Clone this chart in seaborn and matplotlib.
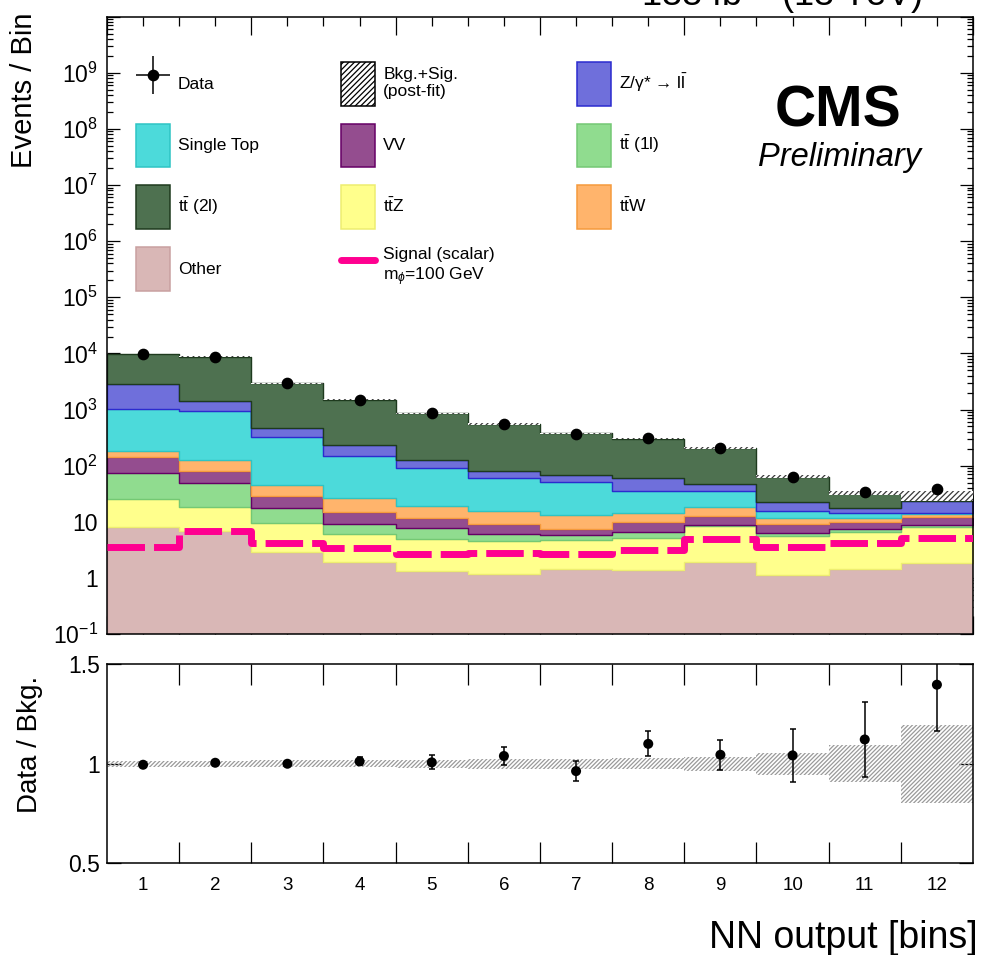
import numpy as np
import pandas as pd
import matplotlib
matplotlib.use("Agg")
import matplotlib.pyplot as plt
import seaborn as sns
from matplotlib.patches import Patch
from matplotlib.lines import Line2D
from matplotlib.collections import LineCollection
from matplotlib.container import ErrorbarContainer
from matplotlib.legend_handler import HandlerErrorbar
from matplotlib.ticker import (FixedLocator, LogLocator, NullFormatter,
                               FuncFormatter, MultipleLocator, NullLocator)
from matplotlib.colors import to_hex

# ---------------------------------------------------------------------------
# NN output bins
bin_labels = ["1", "2", "3", "4", "5", "6", "7", "8", "9", "10", "11", "12"]

# post-fit yields per process (events / bin)
yield_tt2l = [6940, 7364, 2470, 1249, 734, 473, 309, 242, 161, 41.4, 15.6, 5.2]
yield_dy = [1840, 462, 154, 85, 36, 20.4, 17, 24.5, 12, 6.7, 2.8, 9.5]
yield_singletop = [839, 818, 276, 123, 71, 44, 39, 21.3, 18, 4.1, 3.1, 0.4]
yield_ttw = [40, 47, 16.5, 11.2, 7.5, 6.5, 5.5, 4.4, 5.3, 2.4, 1.5, 1.6]
yield_vv = [68, 30.5, 11.4, 5.7, 3.8, 3.1, 1.7, 3.2, 4.0, 2.7, 2.6, 3.5]
yield_tt1l = [48, 29.9, 8.0, 3.1, 2.8, 1.4, 1.1, 1.5, 0.3, 0.8, 0.7, 0.6]
yield_ttz = [16.9, 11.8, 6.5, 4.05, 3.56, 3.44, 3.28, 3.72, 6.45, 4.47, 5.26, 6.38]
yield_other = [8.1, 6.8, 2.9, 1.95, 1.34, 1.16, 1.42, 1.38, 1.95, 1.13, 1.44, 1.82]

# observed events
data_counts = [9800, 8800, 2950, 1500, 870, 560, 370, 305, 205, 62, 34.5, 38]

# scalar signal, m_phi = 100 GeV
signal_scalar = [3.5, 6.9, 4.1, 3.37, 2.63, 2.8, 2.67, 3.14, 4.9, 3.6, 4.1, 5.1]

# relative post-fit uncertainty of Bkg.+Sig.
band_rel_unc = [0.015, 0.015, 0.017, 0.018, 0.02, 0.025, 0.026, 0.027,
                0.034, 0.054, 0.092, 0.196]

# Data / Bkg. ratio and its uncertainty
ratio_vals = [0.995, 1.005, 1.0, 1.012, 1.007, 1.039, 0.963, 1.10, 1.045,
              1.042, 1.122, 1.397]
ratio_errs = [0.008, 0.008, 0.01, 0.02, 0.035, 0.043, 0.05, 0.062, 0.075,
              0.135, 0.19, 0.234]

# ---------------------------------------------------------------------------
# process styling, stacked from top to bottom
proc_keys = ["tt2l", "dy", "singletop", "ttw", "vv", "tt1l", "ttz", "other"]
proc_yields = {"tt2l": yield_tt2l, "dy": yield_dy, "singletop": yield_singletop,
               "ttw": yield_ttw, "vv": yield_vv, "tt1l": yield_tt1l,
               "ttz": yield_ttz, "other": yield_other}
face_colors = {"tt2l": "#4e7150", "dy": "#6f6fdb", "singletop": "#4cdada",
               "ttw": "#ffb46c", "vv": "#944d8f", "tt1l": "#90dc8f",
               "ttz": "#ffff8c", "other": "#d9b7b6"}
edge_colors = {"tt2l": "#1e3a1e", "dy": "#2b2bcf", "singletop": "#2ec4c4",
               "ttw": "#f59a3c", "vv": "#660066", "tt1l": "#74c874",
               "ttz": "#eeee70", "other": "#c9a0a0"}
signal_color = "#ff0090"

TT = r"$\mathrm{t}\bar{\mathrm{t}}$"
legend_labels = {"tt2l": TT + " (2l)", "dy": r"Z/γ* → l$\bar{\mathrm{l}}$",
                 "singletop": "Single Top", "ttw": TT + "W", "vv": "VV",
                 "tt1l": TT + " (1l)", "ttz": TT + "Z", "other": "Other"}

# ---------------------------------------------------------------------------
sns.set_theme(style="ticks")
plt.rcParams["font.family"] = ["Liberation Sans", "DejaVu Sans"]
plt.rcParams["mathtext.fontset"] = "custom"
plt.rcParams["mathtext.rm"] = "Liberation Sans"
plt.rcParams["mathtext.it"] = "Liberation Sans:italic"
plt.rcParams["mathtext.bf"] = "Liberation Sans:bold"
plt.rcParams["axes.linewidth"] = 1.1
plt.rcParams["axes.edgecolor"] = "black"
plt.rcParams["text.color"] = "black"
plt.rcParams["axes.labelcolor"] = "black"
plt.rcParams["xtick.color"] = "black"
plt.rcParams["ytick.color"] = "black"
plt.rcParams["xtick.labelcolor"] = "black"
plt.rcParams["ytick.labelcolor"] = "black"
plt.rcParams["hatch.linewidth"] = 0.9

n_bins = len(bin_labels)
edges = np.arange(n_bins + 1, dtype=float)
centers = edges[:-1] + 0.5

fig = plt.figure(figsize=(9.82, 9.55), dpi=100)
ax = fig.add_axes([0.10896, 0.33613, 0.88187, 0.64639])
rax = fig.add_axes([0.10896, 0.09602, 0.88187, 0.20848])

ax.set_yscale("log")

# stacked backgrounds
df = pd.DataFrame({
    "bin": np.tile(centers, len(proc_keys)),
    "process": np.repeat(proc_keys, n_bins),
    "events": np.concatenate([proc_yields[k] for k in proc_keys]),
})
sns.histplot(data=df, x="bin", weights="events", hue="process",
             hue_order=proc_keys, palette=face_colors, multiple="stack",
             element="step", fill=True, bins=n_bins, binrange=(0, n_bins),
             alpha=1, linewidth=1.0, legend=False, ax=ax)
face_lookup = {to_hex(c): k for k, c in face_colors.items()}
for coll in ax.collections:
    fc = coll.get_facecolor()
    if len(fc):
        key = face_lookup.get(to_hex(fc[0][:3]))
        if key is not None:
            coll.set_edgecolor(edge_colors[key])

# post-fit uncertainty band around Bkg.+Sig.
total = np.sum([proc_yields[k] for k in proc_keys], axis=0)
unc = np.asarray(band_rel_unc)
ax.fill_between(edges, np.append(total * (1 - unc), total[-1] * (1 - unc[-1])),
                np.append(total * (1 + unc), total[-1] * (1 + unc[-1])),
                step="post", facecolor="white", edgecolor="#3a3a3a",
                hatch="//////", linewidth=0, zorder=3)

# signal
sns.histplot(x=centers, weights=signal_scalar, bins=n_bins, binrange=(0, n_bins),
             element="step", fill=False, color=signal_color, linewidth=5.0,
             linestyle=(0, (5.4, 1.3)), ax=ax, zorder=4)

# data
ax.plot(centers, data_counts, "o", color="black", ms=7.4, zorder=5)

ax.set_xlim(0, 12)
ax.set_ylim(0.1, 1e10)
ax.set_xlabel("")
ax.set_ylabel("")


def log_label(v, pos):
    e = int(round(np.log10(v)))
    if e >= 10:
        return ""
    if e == 0:
        return "1"
    if e == 1:
        return "10"
    return r"$10^{%d}$" % e


ax.yaxis.set_major_locator(LogLocator(base=10, numticks=20))
ax.yaxis.set_minor_locator(LogLocator(base=10, subs=np.arange(2, 10), numticks=20))
ax.yaxis.set_major_formatter(FuncFormatter(log_label))
ax.yaxis.set_minor_formatter(NullFormatter())
ax.xaxis.set_major_locator(MultipleLocator(2))
ax.xaxis.set_minor_locator(MultipleLocator(0.5))
ax.tick_params(axis="x", which="both", direction="in", top=True, bottom=True,
               labelbottom=False, color="black", width=0.9)
ax.tick_params(axis="x", which="major", length=13)
ax.tick_params(axis="x", which="minor", length=6.5)
ax.tick_params(axis="y", which="both", direction="in", left=True, right=True,
               color="black", width=0.9, labelsize=16.5, pad=6.5)
ax.tick_params(axis="y", which="major", length=9.4)
ax.tick_params(axis="y", which="minor", length=4.5)

# legend
data_marker = Line2D([], [], marker="o", color="black", ls="none", ms=7.4)
data_handle = ErrorbarContainer(
    (data_marker, (), (LineCollection([], colors="black", linewidths=1.1),)),
    has_xerr=True, has_yerr=True)
band_handle = Patch(facecolor="white", edgecolor="black", hatch="//////",
                    linewidth=1.1)
sig_handle = Line2D([], [], color=signal_color, lw=5.0)


def proc_handle(k):
    return Patch(facecolor=face_colors[k], edgecolor=edge_colors[k], linewidth=1.1)


handles = [data_handle, proc_handle("singletop"), proc_handle("tt2l"), proc_handle("other"),
           band_handle, proc_handle("vv"), proc_handle("ttz"), sig_handle,
           proc_handle("dy"), proc_handle("tt1l"), proc_handle("ttw")]
labels = ["Data", legend_labels["singletop"], legend_labels["tt2l"], legend_labels["other"],
          "Bkg.+Sig.\n(post-fit)", legend_labels["vv"], legend_labels["ttz"],
          "Signal (scalar)\n" + r"m$_{\phi}$=100 GeV",
          legend_labels["dy"], legend_labels["tt1l"], legend_labels["ttw"]]
ax.legend(handles, labels, ncol=3, loc="upper left",
          bbox_to_anchor=(0.0335, 0.9266), frameon=False, fontsize=12.5,
          handlelength=1.95, handleheight=3.5, labelspacing=1.03,
          handletextpad=0.46, columnspacing=4.75, borderpad=0,
          borderaxespad=0,
          handler_map={ErrorbarContainer: HandlerErrorbar(xerr_size=1.0, yerr_size=1.1)})

ax.text(0.844, 0.8228, "CMS", transform=ax.transAxes, ha="center",
        va="baseline", fontsize=41, fontweight="bold")
ax.text(0.846, 0.758, "Preliminary", transform=ax.transAxes, ha="center",
        va="baseline", fontsize=23.5, fontstyle="italic")

# ---------------------------------------------------------------------------
# ratio panel
runc = np.asarray(band_rel_unc)
rax.fill_between(edges, np.append(1 - runc, 1 - runc[-1]),
                 np.append(1 + runc, 1 + runc[-1]), step="post",
                 facecolor="none", edgecolor="#9a9a9a", hatch="////////",
                 linewidth=0, zorder=1)
rax.errorbar(centers, ratio_vals, yerr=ratio_errs, fmt="none", ecolor="black",
             elinewidth=1.1, capsize=2.2, capthick=1.1, zorder=3)
sns.scatterplot(x=centers, y=ratio_vals, color="black", s=52, edgecolor="none",
                ax=rax, zorder=4)

rax.set_xlim(0, 12)
rax.set_ylim(0.5, 1.5)
rax.xaxis.set_major_locator(FixedLocator(edges[1:-1]))
rax.xaxis.set_major_formatter(NullFormatter())
rax.xaxis.set_minor_locator(FixedLocator(centers))
rax.xaxis.set_minor_formatter(FuncFormatter(lambda v, p: bin_labels[int(v)]))
rax.tick_params(axis="x", which="major", direction="in", top=True, bottom=True,
                length=15, width=0.9, color="black")
rax.tick_params(axis="x", which="minor", length=0, labelsize=13.5, pad=10)
rax.yaxis.set_major_locator(FixedLocator([0.5, 1.0, 1.5]))
rax.yaxis.set_major_formatter(FuncFormatter(lambda v, p: {0.5: "0.5", 1.0: "1", 1.5: "1.5"}[round(v, 1)]))
rax.yaxis.set_minor_locator(NullLocator())
rax.tick_params(axis="y", direction="in", left=True, right=True, length=10,
                width=0.9, color="black", labelsize=16.5, pad=5)
rax.set_xlabel("")
rax.set_ylabel("")

# ---------------------------------------------------------------------------
# axis titles and luminosity header
fig.text(10 / 982, 1 - 12 / 955, "Events / Bin", rotation=90, ha="left",
         va="top", fontsize=21)
fig.text(30 / 982, 1 - 744 / 955, "Data / Bkg.", rotation=90, ha="center",
         va="center", fontsize=20)
fig.text(978 / 982, 1 - 948 / 955, "NN output [bins]", ha="right",
         va="baseline", fontsize=27)
fig.text(922 / 982, 1 - 6.5 / 955, r"138 fb$^{-1}$ (13 TeV)", ha="right",
         va="baseline", fontsize=26)

fig.savefig("out.png", dpi=100)
